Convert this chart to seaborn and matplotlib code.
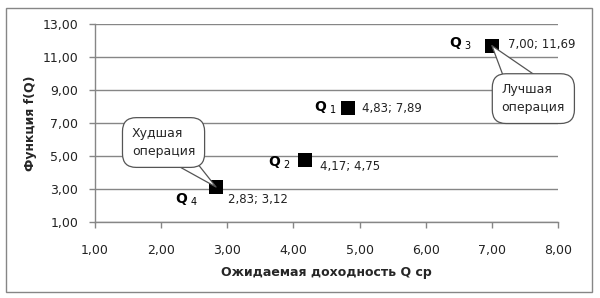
import matplotlib
matplotlib.use("Agg")
import matplotlib.pyplot as plt
from matplotlib.patches import Rectangle
import seaborn as sns
import pandas as pd

names = ["1", "2", "3", "4"]
q_mean = [4.83, 4.17, 7.00, 2.83]
f_q = [7.89, 4.75, 11.69, 3.12]
value_labels = ["4,83; 7,89", "4,17; 4,75", "7,00; 11,69", "2,83; 3,12"]
x_ticks = [1, 2, 3, 4, 5, 6, 7, 8]
y_ticks = [1, 3, 5, 7, 9, 11, 13]

df = pd.DataFrame({"x": q_mean, "y": f_q, "name": names, "lab": value_labels})

sns.set_theme(style="white")
plt.rcParams["font.family"] = ["DejaVu Sans"]

fig = plt.figure(figsize=(6.0, 2.98), dpi=100)
ax = fig.add_axes([95/600, 1-222/298, (558-95)/600, (222-24)/298])

grey = "#868686"
sns.scatterplot(data=df, x="x", y="y", marker="s", s=100, color="black",
                edgecolor="black", linewidth=0, ax=ax, zorder=3)

ax.set_xlim(1, 8)
ax.set_ylim(1, 13)
ax.set_xticks(x_ticks)
ax.set_yticks(y_ticks)
fmt = lambda v: f"{v:.2f}".replace(".", ",")
ax.set_xticklabels([fmt(v) for v in x_ticks], fontsize=9, color="#222222")
ax.set_yticklabels([fmt(v) for v in y_ticks], fontsize=9, color="#222222")
ax.yaxis.grid(True, color=grey, linewidth=1)
ax.xaxis.grid(False)
for s in ["top", "right"]:
    ax.spines[s].set_visible(False)
for s in ["left", "bottom"]:
    ax.spines[s].set_color(grey)
    ax.spines[s].set_linewidth(1)
ax.tick_params(axis="both", which="both", direction="out", length=4, width=1,
               color=grey, pad=8, left=True, bottom=True)
ax.tick_params(axis="x", pad=12)
ax.set_xlabel("Ожидаемая доходность Q ср", fontsize=9, fontweight="bold", labelpad=6)
ax.set_ylabel("Функция f(Q)", fontsize=9, fontweight="bold", labelpad=4)

# offsets in pixels converted to points
px = 0.72
val_off = [(14, 0), (15, -6), (16, 1), (12, -12)]
q_off = [(-12, 1), (-14, -3), (-20, 2), (-18, -13)]
for i, r in df.iterrows():
    ax.annotate(r["lab"], (r["x"], r["y"]), xytext=(val_off[i][0]*px, val_off[i][1]*px),
                textcoords="offset points", ha="left", va="center", fontsize=8.5,
                color="#222222")
    ax.annotate(r"$\mathbf{Q}_{\ " + r["name"] + "}$", (r["x"], r["y"]),
                xytext=(q_off[i][0]*px, q_off[i][1]*px), textcoords="offset points",
                ha="right", va="center", fontsize=10, color="black")

# callouts
worst = df.loc[df["y"].idxmin()]
best = df.loc[df["y"].idxmax()]
box = dict(boxstyle="round,pad=0.75,rounding_size=1.1", fc="white", ec="#555555", lw=0.9)
arrow_w = dict(arrowstyle="wedge,tail_width=2.2,shrink_factor=0.5", fc="white",
               ec="#555555", lw=0.9, shrinkA=0, shrinkB=0, patchA=None)
arrow_b = dict(arrowstyle="wedge,tail_width=3.4,shrink_factor=0.5", fc="white",
               ec="#555555", lw=0.9, shrinkA=0, shrinkB=0, patchA=None)
ax.annotate("Худшая\nоперация", (worst["x"], worst["y"]), xytext=(-52.5*px, 44.5*px),
            textcoords="offset points", ha="center", va="center", fontsize=9,
            linespacing=1.5, multialignment="left", bbox=box, arrowprops=arrow_w, zorder=4)
ax.annotate("Лучшая\nоперация", (best["x"], best["y"]), xytext=(41.5*px, -53*px),
            textcoords="offset points", ha="center", va="center", fontsize=9,
            linespacing=1.5, multialignment="left", bbox=box, arrowprops=arrow_b, zorder=4)

fig.patches.append(Rectangle((6/600, 6/298), 586/600, 284/298, transform=fig.transFigure,
                             fill=False, ec=grey, lw=1))

fig.savefig("out.png", dpi=100)
